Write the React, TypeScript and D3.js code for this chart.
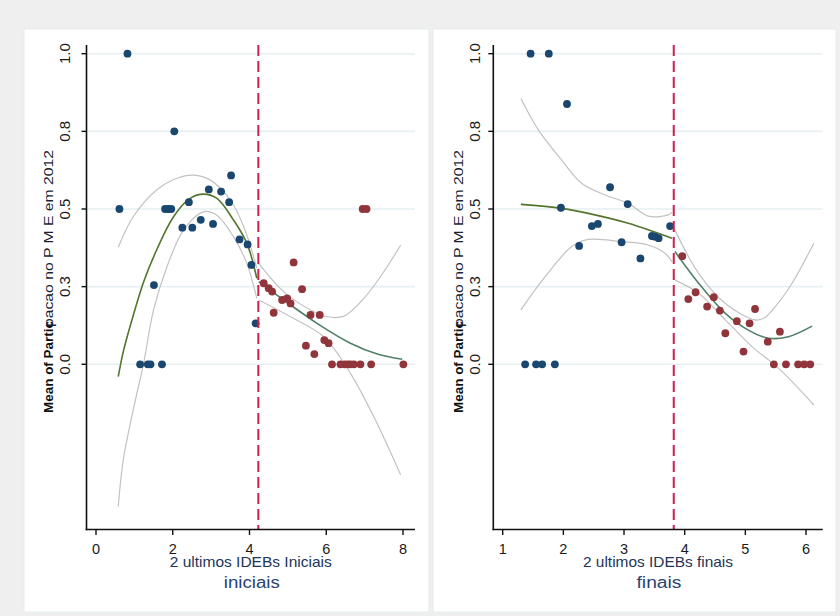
import React from "react";
import * as d3 from "d3";

type Pt = [number, number];

// ---------- axis / text data ----------
const leftXTicks = [0, 2, 4, 6, 8];
const rightXTicks = [1, 2, 3, 4, 5, 6];
const yTicks = [0, 0.25, 0.5, 0.75, 1];
const yTickLabels = ["0.0", "0.3", "0.5", "0.8", "1.0"];
const yLabelA = "Mean of Partic";
const yLabelB = "pacao no P M E em 2012";
const leftTitle = ["2 ultimos IDEBs Iniciais", "iniciais"];
const rightTitle = ["2 ultimos IDEBs finais", "finais"];
const leftCutoff = 4.23;
const rightCutoff = 3.82;

// ---------- left panel (iniciais) ----------
const leftBlue: Pt[] = [
  [0.82, 1.0], [0.61, 0.5], [1.8, 0.5], [1.88, 0.5], [1.96, 0.5], [2.04, 0.75],
  [1.51, 0.255], [2.42, 0.522], [2.25, 0.44], [2.51, 0.44], [2.73, 0.465],
  [3.05, 0.452], [2.94, 0.563], [3.26, 0.556], [3.47, 0.522], [3.52, 0.608],
  [3.74, 0.402], [3.95, 0.386], [4.05, 0.32], [4.16, 0.132],
  [1.15, 0], [1.35, 0], [1.42, 0], [1.72, 0],
];
const leftRed: Pt[] = [
  [6.95, 0.5], [7.05, 0.5], [5.15, 0.328], [5.37, 0.242], [4.37, 0.261],
  [4.5, 0.245], [4.59, 0.234], [4.85, 0.207], [4.98, 0.212], [5.07, 0.196],
  [4.63, 0.166], [5.59, 0.159], [5.83, 0.159], [5.95, 0.078], [6.06, 0.068],
  [5.47, 0.06], [5.69, 0.033],
  [6.15, 0], [6.37, 0], [6.48, 0], [6.56, 0], [6.63, 0], [6.72, 0], [6.89, 0],
  [7.17, 0], [8.01, 0],
];
const leftFitA: Pt[] = [
  [0.58, -0.04], [0.71, 0.04], [0.93, 0.14], [1.24, 0.265], [1.58, 0.368],
  [2.02, 0.475], [2.45, 0.534], [2.8, 0.548], [3.15, 0.534], [3.58, 0.465],
  [3.93, 0.39], [4.19, 0.277],
];
const leftUpA: Pt[] = [
  [0.58, 0.377], [0.97, 0.475], [1.58, 0.561], [2.11, 0.599], [2.54, 0.609],
  [2.98, 0.593], [3.5, 0.529], [3.85, 0.443], [4.19, 0.31],
];
const leftLoA: Pt[] = [
  [0.58, -0.458], [0.71, -0.308], [0.97, -0.147], [1.24, 0.003], [1.5, 0.175],
  [1.85, 0.314], [2.28, 0.432], [2.8, 0.491], [3.15, 0.48], [3.58, 0.411],
  [3.93, 0.325], [4.19, 0.212],
];
const leftFitB: Pt[] = [
  [4.24, 0.266], [4.89, 0.207], [5.76, 0.132], [6.63, 0.068], [7.33, 0.033], [7.98, 0.016],
];
const leftUpB: Pt[] = [
  [4.24, 0.325], [4.89, 0.234], [5.59, 0.175], [6.02, 0.153], [6.46, 0.155],
  [6.98, 0.212], [7.5, 0.298], [7.94, 0.384],
];
const leftLoB: Pt[] = [
  [4.24, 0.207], [5.07, 0.153], [5.93, 0.089], [6.63, -0.029], [7.24, -0.169], [7.94, -0.356],
];

// ---------- right panel (finais) ----------
const rightBlue: Pt[] = [
  [1.46, 1.0], [1.76, 1.0], [2.06, 0.838], [1.96, 0.504], [2.77, 0.57], [3.06, 0.516],
  [2.26, 0.381], [2.47, 0.445], [2.57, 0.452], [2.96, 0.393], [3.27, 0.341],
  [3.46, 0.413], [3.51, 0.411], [3.57, 0.406], [3.76, 0.445],
  [1.37, 0], [1.55, 0], [1.65, 0], [1.86, 0],
];
const rightRed: Pt[] = [
  [3.96, 0.348], [4.06, 0.21], [4.18, 0.232], [4.37, 0.186], [4.48, 0.216],
  [4.58, 0.173], [5.16, 0.178], [4.86, 0.139], [5.07, 0.132], [4.67, 0.1],
  [5.57, 0.105], [5.37, 0.073], [4.97, 0.041],
  [5.47, 0], [5.67, 0], [5.87, 0], [5.97, 0], [6.07, 0],
];
const rightFitA: Pt[] = [
  [1.3, 0.515], [1.97, 0.502], [2.52, 0.481], [3.07, 0.454], [3.79, 0.406],
];
const rightUpA: Pt[] = [
  [1.3, 0.856], [1.59, 0.754], [1.97, 0.658], [2.3, 0.583], [2.69, 0.545],
  [3.07, 0.518], [3.4, 0.477], [3.73, 0.481], [3.79, 0.49],
];
const rightLoA: Pt[] = [
  [1.3, 0.175], [1.7, 0.282], [2.14, 0.379], [2.41, 0.402], [2.96, 0.395],
  [3.4, 0.384], [3.68, 0.357], [3.79, 0.33],
];
const rightFitB: Pt[] = [
  [3.84, 0.363], [4.23, 0.261], [4.67, 0.164], [5.05, 0.11], [5.38, 0.084],
  [5.71, 0.089], [6.1, 0.123],
];
const rightUpB: Pt[] = [
  [3.84, 0.432], [4.23, 0.293], [4.67, 0.196], [5.16, 0.143], [5.3, 0.148],
  [5.49, 0.185], [5.77, 0.261], [6.13, 0.39],
];
const rightLoB: Pt[] = [
  [3.84, 0.271], [4.23, 0.229], [4.67, 0.143], [5.11, 0.057], [5.55, -0.013], [6.13, -0.131],
];

// ---------- styles ----------
const NAVY = "#1a476f";
const MAROON = "#90353b";
const GREEN = "#55752f";
const TEAL = "#4f8068";
const CI = "#c2c2c2";
const GRID = "#e6eff1";
const CUT = "#cf1f4c";
const TICKFONT = "'Liberation Sans Narrow', 'Liberation Sans', Arial, sans-serif";
const FONT = "'Liberation Sans', Arial, sans-serif";

type PanelProps = {
  panel: [number, number];
  axisX: number;
  axisRight: number;
  xDomain: [number, number];
  xRange: [number, number];
  xTicks: number[];
  cutoff: number;
  blue: Pt[];
  red: Pt[];
  fitA: Pt[]; upA: Pt[]; loA: Pt[];
  fitB: Pt[]; upB: Pt[]; loB: Pt[];
  title: string[];
  titleLen: number[];
  tickLabelX: number;
  yLabelX: number;
};

const TOP = 45;
const BOTTOM = 529.5;
const y = d3.scaleLinear().domain([0, 1]).range([364.3, 53.7]);

function Panel(p: PanelProps) {
  const x = d3.scaleLinear().domain(p.xDomain).range(p.xRange);
  const line = d3
    .line<Pt>()
    .x((d) => x(d[0]))
    .y((d) => y(d[1]))
    .curve(d3.curveCatmullRom.alpha(0.5));
  const cx = (p.axisX + p.axisRight) / 2;
  return (
    <g>
      <rect x={p.panel[0]} y={29} width={p.panel[1] - p.panel[0]} height={583} fill="#ffffff" stroke="#e3ecee" strokeWidth={1} />
      {yTicks.map((t) => (
        <line key={"g" + t} x1={p.axisX + 1} x2={p.axisRight} y1={y(t)} y2={y(t)} stroke={GRID} strokeWidth={1.6} />
      ))}
      {[p.upA, p.loA, p.upB, p.loB].map((s, i) => (
        <path key={"ci" + i} d={line(s) || ""} fill="none" stroke={CI} strokeWidth={1.2} />
      ))}
      <path d={line(p.fitA) || ""} fill="none" stroke={GREEN} strokeWidth={1.6} />
      <path d={line(p.fitB) || ""} fill="none" stroke={TEAL} strokeWidth={1.6} />
      {p.blue.map((d, i) => (
        <circle key={"b" + i} cx={x(d[0])} cy={y(d[1])} r={3.9} fill={NAVY} />
      ))}
      {p.red.map((d, i) => (
        <circle key={"r" + i} cx={x(d[0])} cy={y(d[1])} r={3.9} fill={MAROON} />
      ))}
      <line x1={x(p.cutoff)} x2={x(p.cutoff)} y1={TOP} y2={BOTTOM} stroke={CUT} strokeWidth={2} strokeDasharray="11,5" />
      <line x1={p.axisX} x2={p.axisX} y1={TOP} y2={BOTTOM + 0.8} stroke="#111" strokeWidth={1.6} />
      <line x1={p.axisX - 0.8} x2={p.axisRight} y1={BOTTOM} y2={BOTTOM} stroke="#111" strokeWidth={1.6} />
      {yTicks.map((t, i) => (
        <g key={"yt" + t}>
          <line x1={p.axisX - 5} x2={p.axisX} y1={y(t)} y2={y(t)} stroke="#111" strokeWidth={1.4} />
          <text
            transform={`translate(${p.tickLabelX},${y(t)}) rotate(-90)`}
            textAnchor="middle"
            fontFamily={TICKFONT}
            fontSize={15}
            fill="#1a1a1a"
          >
            {yTickLabels[i]}
          </text>
        </g>
      ))}
      {p.xTicks.map((t) => (
        <g key={"xt" + t}>
          <line x1={x(t)} x2={x(t)} y1={BOTTOM} y2={BOTTOM + 5.5} stroke="#111" strokeWidth={1.4} />
          <text x={x(t)} y={553.5} textAnchor="middle" fontFamily={TICKFONT} fontSize={14.5} fill="#1a1a1a">
            {t}
          </text>
        </g>
      ))}
      <text
        transform={`translate(${p.yLabelX},413) rotate(-90)`}
        textAnchor="start"
        fontFamily={FONT}
        fontWeight="bold"
        fontSize={12}
        textLength={92}
        lengthAdjust="spacingAndGlyphs"
        fill="#111"
      >
        {yLabelA}
      </text>
      <text
        transform={`translate(${p.yLabelX},327) rotate(-90)`}
        textAnchor="start"
        fontFamily={FONT}
        fontSize={12.5}
        textLength={177}
        lengthAdjust="spacingAndGlyphs"
        fill="#1a1f33"
      >
        {yLabelB}
      </text>
      <text x={cx} y={567} textAnchor="middle" fontFamily={FONT} fontSize={14.5} textLength={p.titleLen[0]} lengthAdjust="spacingAndGlyphs" fill="#22345a">
        {p.title[0]}
      </text>
      <text x={cx + 1} y={587.5} textAnchor="middle" fontFamily={FONT} fontSize={16} textLength={p.titleLen[1]} lengthAdjust="spacingAndGlyphs" fill="#2a4272">
        {p.title[1]}
      </text>
    </g>
  );
}

export default function App() {
  return (
    <svg width={840} height={616} style={{ position: "absolute", left: 0, top: 0 }}>
      <rect x={0} y={0} width={840} height={616} fill="#efefef" />
      <Panel
        panel={[24, 429]}
        axisX={86.5}
        axisRight={415}
        xDomain={[0, 8]}
        xRange={[96, 403]}
        xTicks={leftXTicks}
        cutoff={leftCutoff}
        blue={leftBlue}
        red={leftRed}
        fitA={leftFitA} upA={leftUpA} loA={leftLoA}
        fitB={leftFitB} upB={leftUpB} loB={leftLoB}
        title={leftTitle}
        titleLen={[162, 56]}
        tickLabelX={70}
        yLabelX={53}
      />
      <Panel
        panel={[433, 836]}
        axisX={493.3}
        axisRight={822.7}
        xDomain={[1, 6]}
        xRange={[502.7, 806]}
        xTicks={rightXTicks}
        cutoff={rightCutoff}
        blue={rightBlue}
        red={rightRed}
        fitA={rightFitA} upA={rightUpA} loA={rightLoA}
        fitB={rightFitB} upB={rightUpB} loB={rightLoB}
        title={rightTitle}
        titleLen={[150, 45]}
        tickLabelX={480}
        yLabelX={463}
      />
    </svg>
  );
}
